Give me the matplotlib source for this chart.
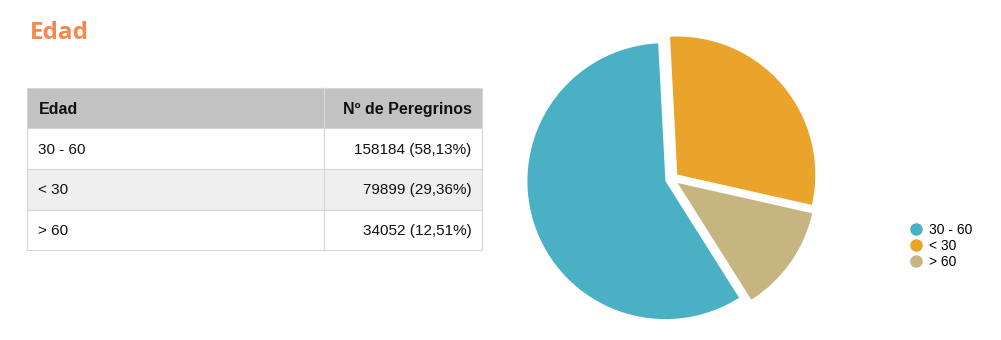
import matplotlib
matplotlib.use("Agg")
import matplotlib.pyplot as plt
from matplotlib.patches import Rectangle
from matplotlib.lines import Line2D

# data
categories = ["30 - 60", "< 30", "> 60"]
pilgrims = [158184, 79899, 34052]
percent_labels = ["58,13%", "29,36%", "12,51%"]
colors = ["#4ab1c5", "#eaa42b", "#c6b580"]
header = ["Edad", "Nº de Peregrinos"]

W, H = 1001, 340
fig = plt.figure(figsize=(W / 100, H / 100), dpi=100)

def px_axes(x0, y0, x1, y1):
    # pixel box (top-left origin) -> figure axes
    return fig.add_axes([x0 / W, 1 - y1 / H, (x1 - x0) / W, (y1 - y0) / H])

fig.text(30 / W, 1 - 33 / H, "Edad", color="#f5894c", fontsize=17.5,
         fontweight="bold", family="Open Sans", va="center", ha="left")

# table
tx0, tx1, ty0, ty1 = 27, 482, 88, 250
tab = px_axes(tx0, ty0, tx1, ty1)
tab.set_xlim(-0.5, tx1 - tx0 + 0.5)
tab.set_ylim(ty1 - ty0 + 0.5, -0.5)
tab.axis("off")
col_x = 324 - tx0
row_h = [40, 41, 41, 40]
edge = "#d6d6d6"
font = "Liberation Sans"
y = 0
rows = [header] + [[c, f"{v} ({p})"] for c, v, p in zip(categories, pilgrims, percent_labels)]
for i, row in enumerate(rows):
    h = row_h[i]
    if i == 0:
        bg = "#c2c2c2"
    elif i % 2 == 0:
        bg = "#efefef"
    else:
        bg = "white"
    tab.add_patch(Rectangle((0, y), tx1 - tx0, h, facecolor=bg, edgecolor=edge,
                            lw=0.8, clip_on=False))
    tab.plot([col_x, col_x], [y, y + h], color="#d9d9d9" if i == 0 else edge,
             lw=0.8, clip_on=False)
    weight = "bold" if i == 0 else "normal"
    size = 11.5 if i == 0 else 11
    tab.text(11, y + h / 2 + 1, row[0], fontsize=size, fontweight=weight, family=font,
             va="center", ha="left", color="#111111")
    tab.text(tx1 - tx0 - 10, y + h / 2 + 1, row[1], fontsize=size, fontweight=weight,
             family=font, va="center", ha="right", color="#111111")
    y += h

# pie
cx, cy, r = 672, 179, 138
lim = 1.12
pie_ax = px_axes(cx - lim * r, cy - lim * r, cx + lim * r, cy + lim * r)
start = 93 + 360 * pilgrims[0] / sum(pilgrims)
pie_ax.pie(pilgrims, colors=colors, startangle=start, counterclock=False,
           explode=[0.05, 0.05, 0.05], radius=1.0,
           wedgeprops=dict(linewidth=0))
pie_ax.set_xlim(-lim, lim)
pie_ax.set_ylim(-lim, lim)
pie_ax.set_aspect("equal")
pie_ax.axis("off")

handles = [Line2D([], [], marker="o", linestyle="none", markersize=8,
                  markerfacecolor=c, markeredgecolor=c) for c in colors]
fig.legend(handles, categories, loc="center left",
           bbox_to_anchor=(903 / W, 1 - 246 / H), frameon=False,
           handlelength=0.8, handletextpad=0.55,
           labelspacing=0.15, borderpad=0, prop={"family": font, "size": 10})

fig.savefig("out.png", dpi=100)
